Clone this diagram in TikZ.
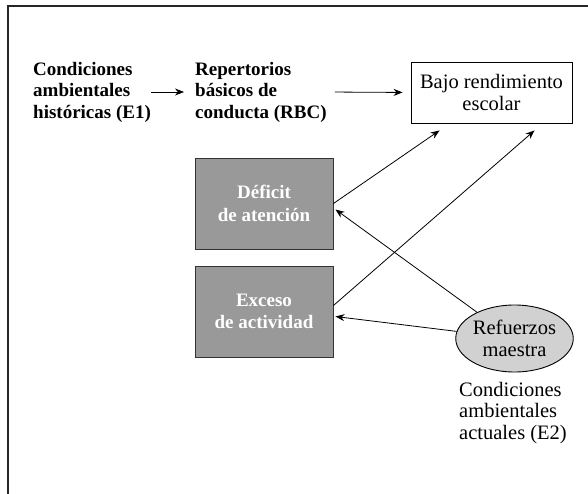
\documentclass[tikz,border=0pt]{standalone}
\usepackage{fontspec}
\setmainfont{Liberation Serif}
\usepackage{tikz}
\usetikzlibrary{shapes.geometric,arrows.meta}
\definecolor{boxgray}{gray}{0.60}
\definecolor{ovalgray}{gray}{0.82}
\tikzset{
  lnode/.style = {align=left, inner sep=0pt, font=\bfseries\fontsize{19}{21.5}\selectfont},
  tnode/.style = {align=left, inner sep=0pt, font=\fontsize{20.5}{21.5}\selectfont},
  bnode/.style = {rectangle, draw=black, line width=0.9pt, align=center, inner sep=0pt,
                  minimum width=161pt, minimum height=61pt, font=\fontsize{20.5}{22}\selectfont},
  gnode/.style = {rectangle, draw=black!80, fill=boxgray, line width=0.9pt, align=center, inner sep=0pt,
                  text=white, minimum width=138pt, minimum height=91pt,
                  font=\bfseries\fontsize{19}{22.5}\selectfont},
  enode/.style = {ellipse, draw=black, fill=ovalgray, line width=0.9pt, align=center, inner sep=0pt,
                  minimum width=115pt, minimum height=67pt, font=\fontsize{20.5}{22}\selectfont},
  conn/.style = {line width=0.8pt, -{Stealth[length=9pt,width=7pt]}}
}
\begin{document}
\begin{tikzpicture}[x=1pt, y=-1pt]
\useasboundingbox (0,0) rectangle (588,494);
% frame
\draw[line width=1.4pt, black!85] (8,494) -- (8,6) -- (588,6);

\node [lnode, anchor=west] (hist) at (33,92) {Condiciones\\ambientales\\históricas (E1)};
\node [lnode, anchor=west] (rbc) at (195,92) {Repertorios\\básicos de\\conducta (RBC)};
\node [bnode] (bajo) at (491.5,92.5) {Bajo rendimiento\\escolar};
\node [gnode] (deficit) at (264,203.5) {Déficit\\de atención};
\node [gnode] (exceso) at (264,311.5) {Exceso\\de actividad};
\node [enode] (refuerzos) at (514.5,338.5) {Refuerzos\\maestra};
\node [tnode, anchor=west] (actuales) at (459,413) {Condiciones\\ambientales\\actuales (E2)};

% arrows
\draw [conn, shorten >=11pt] (hist.east) -- (rbc.west |- hist.east);
\draw [conn, shorten <=8pt, shorten >=8pt] (rbc.east) -- (bajo.west);
\draw [conn] (deficit.east) -- ([xshift=29pt,yshift=-7pt]bajo.south west);
\draw [conn] ([yshift=6pt]exceso.east) -- ([xshift=124pt,yshift=-7pt]bajo.south west);
\draw [conn] (refuerzos.145) -- ([xshift=2pt,yshift=-6pt]deficit.east);
\draw [conn] (refuerzos.173) -- ([xshift=2pt,yshift=-5pt]exceso.east);
\end{tikzpicture}
\end{document}
